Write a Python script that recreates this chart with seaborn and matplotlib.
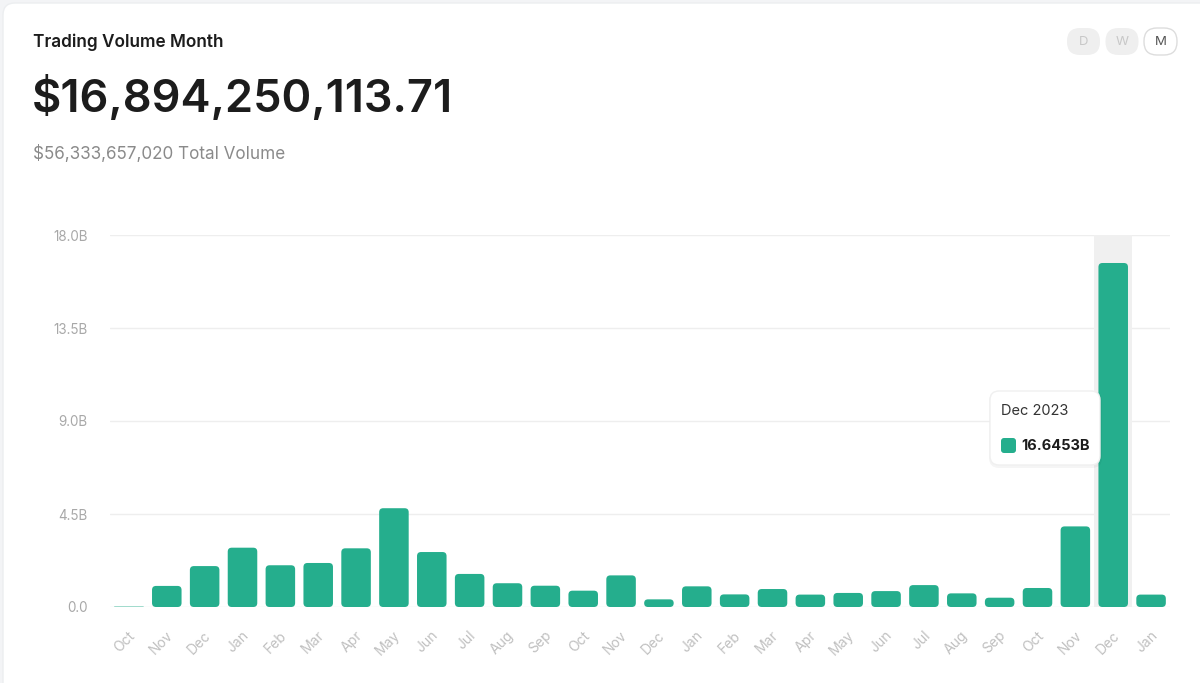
import matplotlib
matplotlib.use("Agg")
import matplotlib.pyplot as plt
import seaborn as sns
from matplotlib.patches import FancyBboxPatch
from matplotlib.transforms import IdentityTransform, ScaledTranslation

# monthly trading volume (billions), Oct 2021 .. Jan 2024
months = ["Oct", "Nov", "Dec",
          "Jan", "Feb", "Mar", "Apr", "May", "Jun", "Jul", "Aug", "Sep", "Oct", "Nov", "Dec",
          "Jan", "Feb", "Mar", "Apr", "May", "Jun", "Jul", "Aug", "Sep", "Oct", "Nov", "Dec",
          "Jan"]
years = [2021] * 3 + [2022] * 12 + [2023] * 12 + [2024]
volume_b = [0.02, 1.02, 1.98,
            2.87, 2.02, 2.13, 2.84, 4.78, 2.66, 1.60, 1.15, 1.03, 0.79, 1.53, 0.37,
            1.00, 0.61, 0.87, 0.60, 0.68, 0.77, 1.06, 0.66, 0.45, 0.92, 3.90, 16.6453,
            0.60]
period = [f"{m} {y}" for m, y in zip(months, years)]

yticks = [0, 4.5, 9, 13.5, 18]
ytick_labels = ["0.0", "4.5B", "9.0B", "13.5B", "18.0B"]

title = "Trading Volume Month"
headline = "$16,894,250,113.71"
subline = "$56,333,657,020 Total Volume"
hover = "Dec 2023"
hover_value = "16.6453B"
buttons = ["D", "W", "M"]

GREEN = "#25ae8d"
W, H = 1200, 683

sns.set_theme(style="white")
plt.rcParams["font.family"] = ["Inter", "DejaVu Sans"]

fig = plt.figure(figsize=(12, 6.83), dpi=100)
fig.patch.set_facecolor("#f3f4f6")


def rbox(x0, y0, x1, y1, r, **kw):
    # rounded box in pixel coords (top-left origin)
    p = FancyBboxPatch((x0, H - y1), x1 - x0, y1 - y0,
                       boxstyle=f"round,pad=0,rounding_size={r}",
                       transform=IdentityTransform(), **kw)
    fig.patches.append(p)
    return p


def ftext(x, y, s, **kw):
    fig.text(x / W, 1 - y / H, s, **kw)


# card (behind the axes)
rbox(3, 3, 1260, 760, 12, facecolor="white", edgecolor="#eceef0", lw=1, zorder=-2)

ax = fig.add_axes([110 / W, 1 - 607 / H, 1060 / W, 372 / H])
ax.set_facecolor("none")

sns.barplot(x=period, y=volume_b, order=period, color=GREEN, width=0.78,
            saturation=1, ax=ax, zorder=2)
ax.set_xlim(-0.5, len(period) - 0.5)
ax.set_ylim(0, 18)

# swap the plain rectangles for rounded ones
xu = len(period) / 1060
yu = 18 / 372
asp = yu / xu
for p in list(ax.containers[0]):
    x, w, h = p.get_x(), p.get_width(), p.get_height()
    r = min(4 * xu, (h / asp) / 2, w / 2)
    ax.add_patch(FancyBboxPatch((x, 0), w, h,
                                boxstyle=f"round,pad=0,rounding_size={r}",
                                mutation_aspect=asp, facecolor=GREEN,
                                edgecolor="none", zorder=2))
    p.set_visible(False)

# hovered month highlight
hi = period.index(hover)
ax.axvspan(hi - 0.5, hi + 0.5, color="#f0f0f0", zorder=0.6, lw=0)

ax.set_yticks(yticks)
ax.set_yticklabels(ytick_labels)
ax.set_xticks(range(len(period)))
ax.set_xticklabels(months, rotation=45, ha="right", va="center",
                   rotation_mode="anchor")
ax.tick_params(axis="y", length=0, pad=16, labelsize=9.7, labelcolor="#a8a8a8")
ax.tick_params(axis="x", length=0, pad=19, labelsize=10, labelcolor="#c0c0c0")
ax.set_xlabel("")
ax.set_ylabel("")
ax.grid(axis="y", color="#eeeeee", lw=1)
ax.grid(axis="x", visible=False)
ax.set_axisbelow(True)
sns.despine(ax=ax, left=True, bottom=True)

# nudge month labels a little to the right
shift = ScaledTranslation(4 / 100, 0, fig.dpi_scale_trans)
for lbl in ax.get_xticklabels():
    lbl.set_transform(lbl.get_transform() + shift)

# header texts
ftext(33, 42, title, fontsize=12.4, fontweight="semibold", color="#1c1c1c", va="center")
ftext(32, 98, headline, fontsize=32.5, fontweight="semibold", color="#1c1c1c", va="center")
ftext(33, 154, subline, fontsize=12.3, color="#8a8a8a", va="center")

# D / W / M buttons
for i, b in enumerate(buttons):
    x0 = 1067 + i * 38.5
    active = b == "M"
    rbox(x0, 28, x0 + 33, 55, 13,
         facecolor="white" if active else "#efefef",
         edgecolor="#dddddd" if active else "none", lw=1, zorder=1)
    ftext(x0 + 16.5, 42, b, fontsize=9.5, ha="center", va="center",
          color="#555555" if active else "#c8c8c8")

# tooltip
rbox(989, 391, 1102, 468, 10, facecolor="#000000", alpha=0.04, edgecolor="none", zorder=5)
rbox(990, 391, 1100, 465, 9, facecolor="white", edgecolor="#f0f0f0", lw=1, zorder=6)
rbox(1001, 438, 1016, 453, 3, facecolor=GREEN, edgecolor="none", zorder=7)
ftext(1001, 411, hover, fontsize=10.5, color="#333333", va="center", zorder=8)
ftext(1021, 446, hover_value, fontsize=10.5, fontweight="bold", color="#1c1c1c",
      va="center", zorder=8)

fig.savefig("out.png", dpi=100, facecolor=fig.get_facecolor())
